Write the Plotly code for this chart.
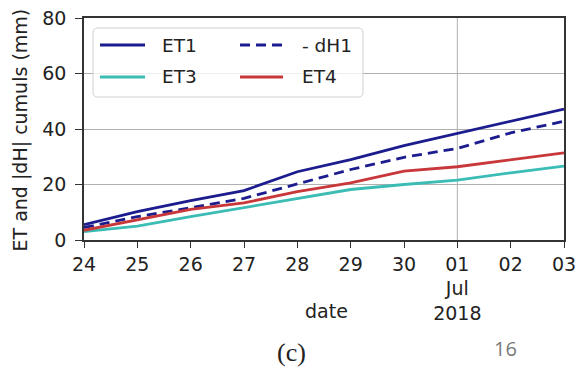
import plotly.graph_objects as go

# ---- data ----
dates = ["2018-06-24", "2018-06-25", "2018-06-26", "2018-06-27", "2018-06-28",
         "2018-06-29", "2018-06-30", "2018-07-01", "2018-07-02", "2018-07-03"]
et1 = [5.5, 10.2, 14.2, 17.8, 24.6, 29.0, 34.0, 38.4, 43.0, 47.2]
dh1 = [4.5, 8.4, 11.6, 15.0, 20.2, 25.4, 29.8, 33.0, 38.6, 42.8]
et3 = [3.0, 5.0, 8.4, 11.6, 15.0, 18.2, 20.0, 21.6, 24.2, 26.6]
et4 = [3.5, 7.2, 11.0, 13.4, 17.4, 20.6, 24.8, 26.4, 28.8, 31.4]

tick_vals = dates
tick_text = ["24", "25", "26", "27", "28", "29", "30", "01<br>Jul<br>2018", "02", "03"]
y_ticks = [0, 20, 40, 60, 80]

series = [
    ("ET1", et1, "#1c1c8e", "solid"),
    ("- dH1", dh1, "#1c1c8e", "10px,6px"),
    ("ET3", et3, "#3bbcb4", "solid"),
    ("ET4", et4, "#c8373a", "solid"),
]

W, H = 576, 371
L, R, T, B = 84, 12, 18, 131
PW, PH = W - L - R, H - T - B
FONT = "DejaVu Sans"


def px(x):
    return (x - L) / PW


def py(y):
    return (T + PH - y) / PH


fig = go.Figure()
for name, vals, col, dash in series:
    fig.add_trace(go.Scatter(x=dates, y=vals, mode="lines", name=name,
                             line=dict(color=col, width=2.8, dash=dash),
                             showlegend=False))

shapes = []
# vertical grid line at the month tick
shapes.append(dict(type="line", xref="x", yref="paper", x0="2018-07-01", x1="2018-07-01",
                   y0=0, y1=1, line=dict(color="#b0b0b0", width=1), layer="below"))

# legend box (rounded)
bx0, bx1, by0, by1, r = 93, 363, 28, 97, 5
rx, ry = r / PW, r / PH
X0, X1, Y0, Y1 = px(bx0), px(bx1), py(by1), py(by0)
path = (f"M {X0+rx},{Y0} L {X1-rx},{Y0} Q {X1},{Y0} {X1},{Y0+ry} "
        f"L {X1},{Y1-ry} Q {X1},{Y1} {X1-rx},{Y1} L {X0+rx},{Y1} "
        f"Q {X0},{Y1} {X0},{Y1-ry} L {X0},{Y0+ry} Q {X0},{Y0} {X0+rx},{Y0} Z")
shapes.append(dict(type="path", xref="paper", yref="paper", path=path,
                   fillcolor="rgba(255,255,255,0.8)", line=dict(color="#d0d0d0", width=1),
                   layer="above"))

annotations = []
legend_pos = [(100, 145, 160, 45), (240, 283, 300, 45), (100, 145, 160, 77), (240, 283, 300, 77)]
for (name, vals, col, dash), (lx0, lx1, tx, ly) in zip(series, legend_pos):
    shapes.append(dict(type="line", xref="paper", yref="paper", x0=px(lx0), x1=px(lx1),
                       y0=py(ly), y1=py(ly), line=dict(color=col, width=2.8, dash=dash),
                       layer="above"))
    annotations.append(dict(text=name, xref="paper", yref="paper", x=px(tx), y=py(ly),
                            xanchor="left", yanchor="middle", showarrow=False,
                            font=dict(family=FONT, size=18.5, color="#222")))

# y axis label
annotations.append(dict(text="ET and |dH| cumuls (mm)", xref="paper", yref="paper",
                        x=px(20), y=py(254), xanchor="center", yanchor="bottom",
                        textangle=-90, showarrow=False,
                        font=dict(family=FONT, size=19, color="#222")))
# x axis label
annotations.append(dict(text="date", xref="paper", yref="paper", x=px(326), y=py(311),
                        xanchor="center", yanchor="middle", showarrow=False,
                        font=dict(family=FONT, size=19, color="#222")))
# panel label
annotations.append(dict(text="(c)", xref="paper", yref="paper", x=px(291), y=py(352),
                        xanchor="center", yanchor="middle", showarrow=False,
                        font=dict(family="Liberation Serif", size=26, color="#222")))
annotations.append(dict(text="16", xref="paper", yref="paper", x=px(505), y=py(348),
                        xanchor="center", yanchor="middle", showarrow=False,
                        font=dict(family="Open Sans", size=20, color="#7a7a7a")))

fig.update_layout(
    width=W, height=H,
    margin=dict(l=L, r=R, t=T, b=B, autoexpand=False),
    paper_bgcolor="white", plot_bgcolor="white",
    font=dict(family=FONT, size=19, color="#222"),
    shapes=shapes, annotations=annotations,
    xaxis=dict(range=[dates[0], dates[-1]], tickmode="array", tickvals=tick_vals,
               ticktext=tick_text, ticks="outside", ticklen=6, tickwidth=1.3,
               tickcolor="#333", showgrid=False, zeroline=False,
               showline=True, linecolor="#333", linewidth=1.5, mirror=True,
               tickangle=0, ticklabeloverflow="allow", tickfont=dict(size=19)),
    yaxis=dict(range=[0, 80], tickmode="array", tickvals=y_ticks, ticks="outside",
               ticklen=7, tickwidth=1.3, tickcolor="#333", showgrid=True,
               gridcolor="#b0b0b0", gridwidth=1, zeroline=False,
               showline=True, linecolor="#333", linewidth=1.5, mirror=True,
               ticklabelstandoff=5, tickfont=dict(size=19)),
)

fig.write_html("out.html")
